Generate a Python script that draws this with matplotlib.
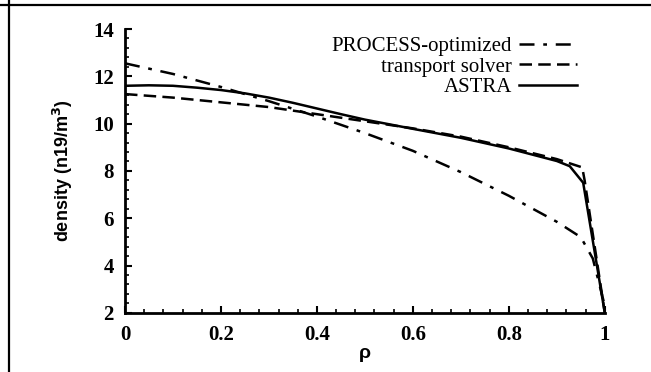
import numpy as np
import matplotlib
matplotlib.use('Agg')
import matplotlib.pyplot as plt
from matplotlib.lines import Line2D
from matplotlib.ticker import MultipleLocator

# profiles
rho_process = [0.0, 0.1, 0.2, 0.3, 0.4, 0.5, 0.6, 0.7, 0.8, 0.9, 0.95, 0.975, 1.0]
n_process = [12.55, 12.1, 11.55, 10.95, 10.3, 9.6, 8.85, 7.95, 6.95, 5.85, 5.2, 4.3, 2.3]

rho_transport = [0.0, 0.1, 0.2, 0.3, 0.4, 0.5, 0.6, 0.7, 0.8, 0.9, 0.953, 0.958, 1.0]
n_transport = [11.25, 11.1, 10.9, 10.7, 10.4, 10.1, 9.8, 9.45, 9.0, 8.5, 8.15, 7.6, 2.0]

rho_astra = [0.0, 0.05, 0.1, 0.15, 0.2, 0.25, 0.3, 0.35, 0.4, 0.45, 0.5, 0.6, 0.7,
             0.8, 0.9, 0.927, 0.955, 1.0]
n_astra = [11.6, 11.62, 11.6, 11.52, 11.42, 11.28, 11.1, 10.88, 10.64, 10.4, 10.17,
           9.78, 9.4, 8.95, 8.42, 8.2, 7.5, 2.0]

xticks = [0, 0.2, 0.4, 0.6, 0.8, 1]
xticklabels = ['0', '0.2', '0.4', '0.6', '0.8', '1']
yticks = [2, 4, 6, 8, 10, 12, 14]

fig = plt.figure(figsize=(6.51, 3.72), dpi=100)
ax = fig.add_axes([0.192, 0.159, 0.737, 0.763])

lw = 1.8
ax.plot(rho_process, n_process, color='black', lw=lw, dashes=(6, 3.5, 1.5, 3.5),
        label='PROCESS-optimized')
ax.plot(rho_transport, n_transport, color='black', lw=lw, dashes=(5, 2.5),
        label='transport solver')
ax.plot(rho_astra, n_astra, color='black', lw=lw, label='ASTRA')

ax.set_xlim(0, 1)
ax.set_ylim(2, 14)
ax.set_xticks(xticks)
ax.set_xticklabels(xticklabels)
ax.set_yticks(yticks)
ax.xaxis.set_minor_locator(MultipleLocator(0.04))
ax.yaxis.set_minor_locator(MultipleLocator(0.4))

for s in ['top', 'right']:
    ax.spines[s].set_visible(False)
for s in ['left', 'bottom']:
    ax.spines[s].set_linewidth(2)

ax.tick_params(which='major', direction='in', length=5, width=1.5)
ax.tick_params(axis='x', which='major', pad=9)
ax.tick_params(axis='y', which='major', pad=8)
ax.tick_params(which='minor', direction='in', length=3, width=1.2)
for lab in ax.get_xticklabels() + ax.get_yticklabels():
    lab.set_family('Liberation Serif')
    lab.set_fontweight('bold')
    lab.set_fontsize(15)

ax.set_xlabel(r'ρ', family='Liberation Sans', fontweight='bold', fontsize=14, labelpad=0)
ax.set_ylabel(r'density (n19/m$^{\mathbf{3}}$)', family='Liberation Sans',
              fontweight='bold', fontsize=13, labelpad=13)

leg = ax.legend(loc='upper right', bbox_to_anchor=(0.982, 1.04), frameon=False,
                markerfirst=False, handlelength=2.8, handletextpad=0.35,
                labelspacing=0.05, prop={'family': 'Liberation Serif', 'size': 15},
                alignment='right')
for t in leg.get_texts():
    t.set_ha('right')

# page frame around the figure
fig.add_artist(Line2D([9 / 651, 9 / 651], [0, 1], transform=fig.transFigure,
                      color='black', lw=1.6))
fig.add_artist(Line2D([0, 1], [1 - 4.5 / 372, 1 - 4.5 / 372], transform=fig.transFigure,
                      color='black', lw=1.6))

fig.savefig('out.png', dpi=100)
